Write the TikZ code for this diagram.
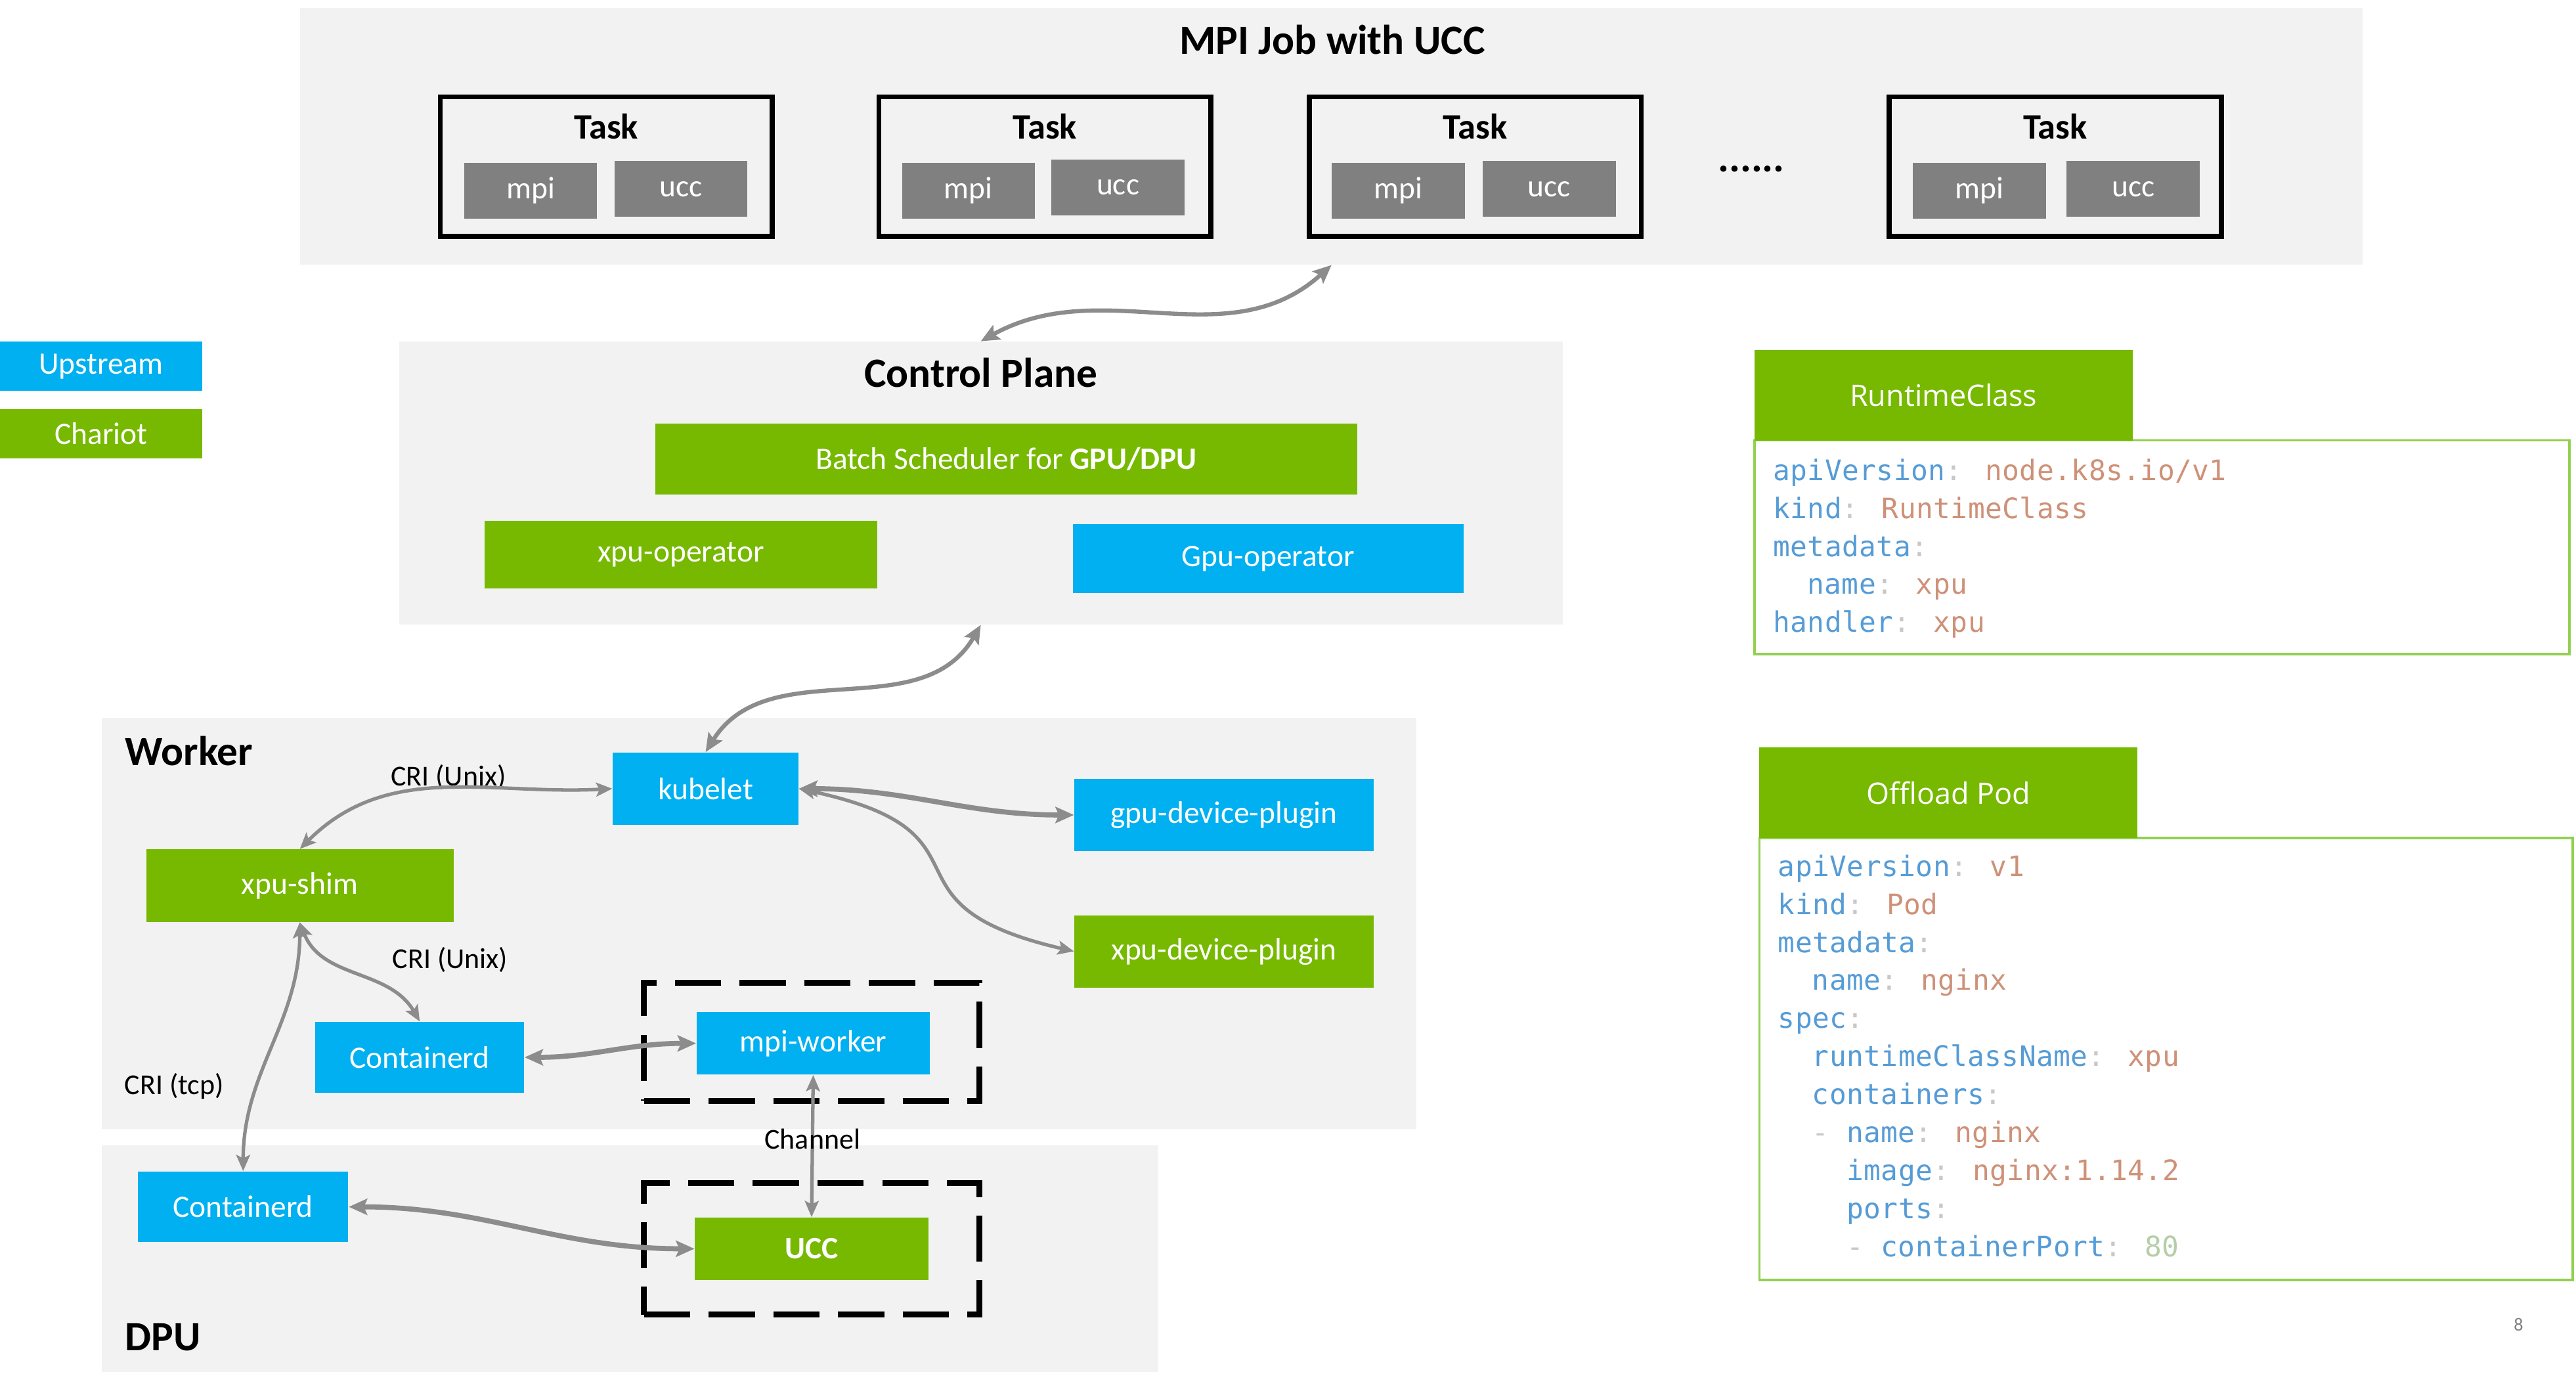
\documentclass[tikz,border=0pt]{standalone}
\usepackage{fontspec}
\setmainfont{Carlito}
\newfontfamily\codefont[LetterSpace=1]{DejaVu Sans Mono}
\newfontfamily\headfont{Open Sans}
\usetikzlibrary{calc, arrows.meta, positioning}
\definecolor{myblue}{RGB}{0,176,240}
\definecolor{mygreen}{RGB}{118,185,0}
\definecolor{mylight}{RGB}{146,208,80}
\definecolor{mybg}{RGB}{242,242,242}
\definecolor{mygray}{RGB}{128,128,128}
\definecolor{myarrow}{RGB}{140,140,140}
\definecolor{mykey}{RGB}{86,156,214}
\definecolor{myval}{RGB}{206,145,120}
\definecolor{mycolon}{RGB}{200,200,200}
\definecolor{mynum}{RGB}{181,206,168}
\newcommand{\ky}[1]{\textcolor{mykey}{#1}\textcolor{mycolon}{:}}
\newcommand{\vl}[1]{\textcolor{myval}{#1}}
\newcommand{\dsh}{\textcolor{mycolon}{-}}
\tikzset{>={Stealth[length=8pt, width=7pt, inset=1.5pt]}, font=\fontsize{13.5}{16}\selectfont}

\begin{document}
\begin{tikzpicture}[
  x=0.025cm, y=-0.025cm,
  myarea/.style={fill=mybg, inner sep=0pt},
  mybox/.style={fill=#1, text=white, inner sep=0pt},
  mysize/.style 2 args={minimum width=#1, minimum height=#2},
  mytask/.style={draw=black, line width=2.2pt, inner sep=0pt, minimum width=5.05cm, minimum height=2.125cm},
  mysmall/.style={fill=mygray, text=white, inner sep=0pt, minimum width=2.025cm, minimum height=0.85cm},
  mytitle/.style={inner sep=0pt, font=\fontsize{18}{22}\selectfont\bfseries},
  mytasklabel/.style={inner sep=0pt, font=\fontsize{15.5}{18}\selectfont\bfseries},
  mylabel/.style={inner sep=0pt, font=\fontsize{12.5}{15}\selectfont},
  mydash/.style={draw=black, line width=2.6pt, dash pattern=on 20pt off 8pt, inner sep=0pt},
  mycode/.style={draw=mylight, line width=1pt, inner sep=0pt},
  myhead/.style={fill=mygreen, text=white, inner sep=0pt, minimum width=5.75cm, minimum height=1.375cm, font=\headfont\fontsize{12.8}{15}\selectfont},
  mylisting/.style={anchor=north west, align=left, inner sep=0pt, font=\codefont\fontsize{12.2}{16.45}\selectfont},
  mylink/.style={draw=myarrow, line width=#1, <->},
  mythin/.style={draw=myarrow, line width=1.5pt, >={Stealth[length=7pt, width=6pt, inset=1.5pt]}, <->}
]
\useasboundingbox (0,0) rectangle (1568,845);

%the grey areas
\node[myarea, mysize={31.375cm}{3.9cm}] (job) at (810.5,83) {};
\node[myarea, mysize={17.7cm}{4.3cm}] (cp) at (597,294) {};
\node[myarea, mysize={20cm}{6.25cm}] (worker) at (462,562) {};
\node[myarea, mysize={16.075cm}{3.45cm}] (dpu) at (383.5,766) {};

\node[mytitle] (jobtitle) at (811,24) {MPI Job with UCC};
\node[mytitle] (cptitle) at (597,227) {Control Plane};
\node[mytitle, anchor=west] (workertitle) at (76,457) {Worker};
\node[mytitle, anchor=west] (dputitle) at (76,814) {DPU};

%the tasks
\node[mytask] (task1) at (369,101.5) {};
\node[mytask] (task2) at (636,101.5) {};
\node[mytask] (task3) at (898,101.5) {};
\node[mytask] (task4) at (1251,101.5) {};
\node[mytasklabel] (tasklabel1) at (369,77) {Task};
\node[mytasklabel] (tasklabel2) at (636,77) {Task};
\node[mytasklabel] (tasklabel3) at (898,77) {Task};
\node[mytasklabel] (tasklabel4) at (1251,77) {Task};
\node[mysmall] (mpi1) at (323,116) {mpi};
\node[mysmall] (ucc1) at (414.5,115) {ucc};
\node[mysmall] (mpi2) at (589.5,116) {mpi};
\node[mysmall] (ucc2) at (680.5,114) {ucc};
\node[mysmall] (mpi3) at (851,116) {mpi};
\node[mysmall] (ucc3) at (943,115) {ucc};
\node[mysmall] (mpi4) at (1205,116) {mpi};
\node[mysmall] (ucc4) at (1298.5,115) {ucc};
\node[mytitle] (dots) at (1066,103) {......};

%the legend
\node[mybox=myblue, mysize={3.075cm}{0.75cm}] (upstream) at (61.5,223) {Upstream};
\node[mybox=mygreen, mysize={3.075cm}{0.75cm}] (chariot) at (61.5,264) {Chariot};

%the control plane
\node[mybox=mygreen, mysize={10.675cm}{1.075cm}] (batch) at (612.5,279.5) {Batch Scheduler for \textbf{GPU/DPU}};
\node[mybox=mygreen, mysize={5.975cm}{1.025cm}] (xpuop) at (414.5,337.5) {xpu-operator};
\node[mybox=myblue, mysize={5.95cm}{1.05cm}] (gpuop) at (772,340) {Gpu-operator};

%the worker
\node[mybox=myblue, mysize={2.825cm}{1.1cm}] (kubelet) at (429.5,480) {kubelet};
\node[mybox=myblue, mysize={4.55cm}{1.1cm}] (gpudp) at (745,496) {gpu-device-plugin};
\node[mybox=mygreen, mysize={4.55cm}{1.1cm}] (xpudp) at (745,579) {xpu-device-plugin};
\node[mybox=mygreen, mysize={4.675cm}{1.1cm}] (shim) at (182.5,539) {xpu-shim};
\node[mybox=myblue, mysize={3.175cm}{1.075cm}] (cw) at (255.5,643.5) {Containerd};
\node[mydash, mysize={5.1cm}{1.8cm}] (mpiframe) at (494,634) {};
\node[mybox=myblue, mysize={3.55cm}{0.95cm}] (mpiw) at (495,635) {mpi-worker};

%the dpu
\node[mybox=myblue, mysize={3.2cm}{1.075cm}] (cd) at (148,734.5) {Containerd};
\node[mydash, mysize={5.1cm}{2cm}] (uccframe) at (494,760) {};
\node[mybox=mygreen, mysize={3.55cm}{0.95cm}, font=\fontsize{13.5}{16}\selectfont\bfseries] (ucc) at (494,760) {UCC};

\node[mylabel] (crikubelet) at (273,473) {CRI (Unix)};
\node[mylabel] (cricontainerd) at (274,584) {CRI (Unix)};
\node[mylabel] (critcp) at (106,661) {CRI (tcp)};

%the links
\draw[mylink=1.8pt] (job.south) to[out=222, in=29] (cp.north);
\draw[mylink=1.8pt] (cp.south) to[out=240, in=58] (kubelet.north);
\draw[mythin] (kubelet.west) to[out=183, in=45] (shim.north);
\draw[mylink=2.2pt] (kubelet.east) to[out=0, in=180] (gpudp.west);
\draw[mythin] (kubelet.east) to[out=-12, in=167, looseness=1.7] (xpudp.west);
\draw[mythin] (shim.south) to[out=-69, in=120] (cw.north);
\draw[mythin] (shim.south) to[out=-90, in=90] (cd.north);
\draw[mylink=2.2pt] (cw.east) to[out=0, in=180] (mpiw.west);
\draw[mythin] (mpiw.south) -- node[mylabel, pos=0.45] (channel) {Channel} (ucc.north);
\draw[mylink=2.2pt] (cd.east) to[out=0, in=180] (ucc.west);

%the yaml boxes
\node[mycode, mysize={12.4cm}{3.25cm}] (rcbox) at (1316,333) {};
\node[myhead] (rchead) at (1183,240.5) {RuntimeClass};
\node[mylisting] (rccode) at (1079,279) {\ky{apiVersion} \vl{node.k8s.io/v1}\\
\ky{kind} \vl{RuntimeClass}\\
\ky{metadata}\\
\phantom{xx}\ky{name} \vl{xpu}\\
\ky{handler} \vl{xpu}};

\node[mycode, mysize={12.375cm}{6.725cm}] (podbox) at (1318.5,644.5) {};
\node[myhead] (podhead) at (1186,482.5) {Offload Pod};
\node[mylisting] (podcode) at (1082,520) {\ky{apiVersion} \vl{v1}\\
\ky{kind} \vl{Pod}\\
\ky{metadata}\\
\phantom{xx}\ky{name} \vl{nginx}\\
\ky{spec}\\
\phantom{xx}\ky{runtimeClassName} \vl{xpu}\\
\phantom{xx}\ky{containers}\\
\phantom{xx}\dsh{} \ky{name} \vl{nginx}\\
\phantom{xxxx}\ky{image} \vl{nginx:1.14.2}\\
\phantom{xxxx}\ky{ports}\\
\phantom{xxxx}\dsh{} \ky{containerPort} \textcolor{mynum}{80}};

\node[font=\fontsize{8}{10}\selectfont, text=mygray] (page) at (1533,806) {8};
\end{tikzpicture}
\end{document}
